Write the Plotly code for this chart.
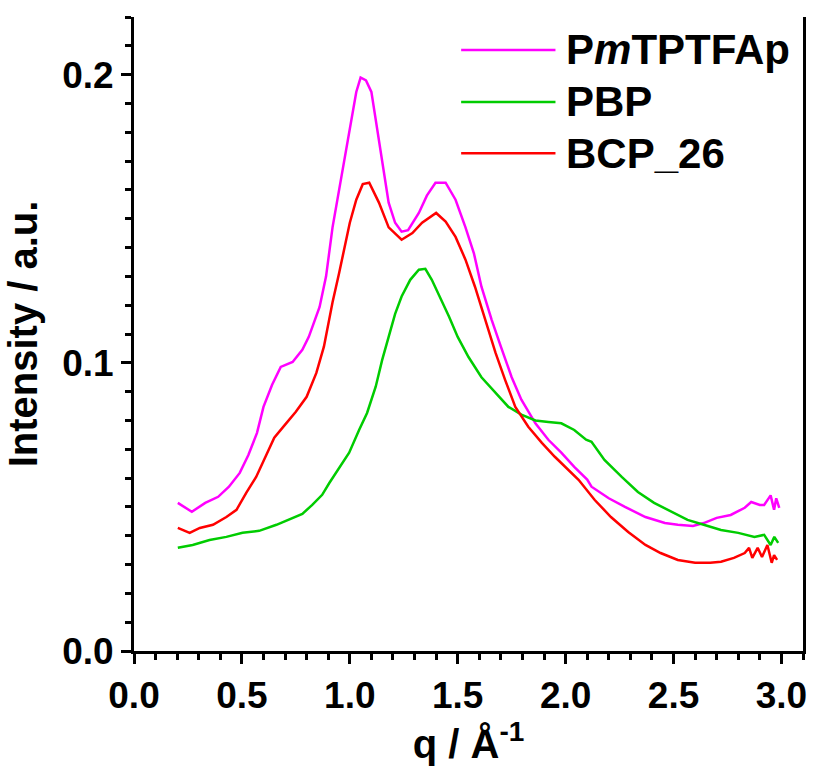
import plotly.graph_objects as go

# PmTPTFAp (magenta)
q_m = [0.203, 0.268, 0.33, 0.39, 0.44, 0.49, 0.53, 0.57, 0.60, 0.64, 0.68, 0.735, 0.78, 0.81, 0.86,
       0.89, 0.92, 0.96, 1.0, 1.03, 1.05, 1.075, 1.10, 1.126, 1.158, 1.18, 1.21, 1.24, 1.27, 1.32,
       1.357, 1.397, 1.444, 1.49, 1.536, 1.575, 1.61, 1.657, 1.70, 1.75, 1.795, 1.86, 1.92, 1.98,
       2.04, 2.10, 2.12, 2.20, 2.275, 2.37, 2.46, 2.52, 2.59, 2.64, 2.70, 2.765, 2.83, 2.86, 2.90,
       2.92, 2.95, 2.966, 2.976, 2.99]
i_m = [0.0514, 0.0483, 0.0514, 0.0535, 0.057, 0.0618, 0.068, 0.0757, 0.0847, 0.0924, 0.0986, 0.1003,
       0.1045, 0.109, 0.1194, 0.130, 0.147, 0.1646, 0.182, 0.194, 0.199, 0.198, 0.194, 0.182, 0.167,
       0.1556, 0.1486, 0.1455, 0.146, 0.152, 0.158, 0.1625, 0.1625, 0.1566, 0.147, 0.138, 0.1264,
       0.115, 0.1056, 0.095, 0.0872, 0.079, 0.0733, 0.0688, 0.0639, 0.0595, 0.057, 0.053, 0.050,
       0.0465, 0.0444, 0.0438, 0.0434, 0.0444, 0.0462, 0.0472, 0.0497, 0.0517, 0.0507, 0.0507,
       0.054, 0.049, 0.053, 0.0497]

# PBP (green)
q_g = [0.203, 0.272, 0.35, 0.428, 0.503, 0.58, 0.66, 0.735, 0.78, 0.826, 0.872, 0.905, 0.95, 0.997,
       1.043, 1.08, 1.12, 1.15, 1.18, 1.21, 1.24, 1.28, 1.32, 1.35, 1.38, 1.41, 1.46, 1.50, 1.55,
       1.61, 1.675, 1.735, 1.795, 1.86, 1.92, 1.98, 2.04, 2.095, 2.12, 2.18, 2.26, 2.335, 2.41, 2.49,
       2.565, 2.64, 2.72, 2.80, 2.875, 2.92, 2.95, 2.967, 2.985]
i_g = [0.0358, 0.0368, 0.0385, 0.0396, 0.041, 0.0417, 0.0438, 0.0462, 0.0476, 0.0507, 0.0542,
       0.0583, 0.0635, 0.0688, 0.0767, 0.0826, 0.0917, 0.101, 0.109, 0.117, 0.123, 0.1288, 0.1323,
       0.1326, 0.1288, 0.124, 0.116, 0.109, 0.102, 0.095, 0.0896, 0.0847, 0.082, 0.080, 0.0795,
       0.079, 0.0767, 0.0733, 0.0726, 0.0663, 0.0604, 0.0552, 0.0514, 0.0483, 0.0455, 0.0438, 0.042,
       0.041, 0.0396, 0.0403, 0.0368, 0.0396, 0.0375]

# BCP_26 (red)
q_r = [0.203, 0.258, 0.305, 0.366, 0.428, 0.475, 0.52, 0.566, 0.613, 0.65, 0.705, 0.75, 0.80, 0.845,
       0.88, 0.92, 0.95, 0.975, 1.0, 1.03, 1.06, 1.09, 1.135, 1.18, 1.24, 1.29, 1.335, 1.40, 1.444,
       1.49, 1.536, 1.58, 1.63, 1.675, 1.72, 1.767, 1.827, 1.89, 1.95, 2.026, 2.06, 2.135, 2.21, 2.29,
       2.37, 2.44, 2.52, 2.60, 2.67, 2.72, 2.78, 2.83, 2.85, 2.865, 2.89, 2.91, 2.935, 2.955, 2.966,
       2.98]
i_r = [0.0427, 0.041, 0.0427, 0.0438, 0.0465, 0.049, 0.0549, 0.0604, 0.068, 0.074, 0.079, 0.083,
       0.0882, 0.0965, 0.1056, 0.121, 0.131, 0.140, 0.1486, 0.1566, 0.162, 0.1625, 0.1556, 0.147,
       0.1427, 0.145, 0.1486, 0.152, 0.149, 0.1437, 0.1358, 0.1264, 0.114, 0.1035, 0.094, 0.0847,
       0.0778, 0.0722, 0.0674, 0.0618, 0.0594, 0.0524, 0.0465, 0.0413, 0.0368, 0.034, 0.0316, 0.0306,
       0.0306, 0.031, 0.0323, 0.034, 0.0358, 0.0323, 0.0358, 0.0326, 0.0368, 0.0306, 0.0333, 0.0316]

series_names = ["P<i>m</i>TPTFAp", "PBP", "BCP_26"]
series_colors = ["#FF00FF", "#00CC00", "#FF0000"]
series_x = [q_m, q_g, q_r]
series_y = [i_m, i_g, i_r]

FONT = "Liberation Sans, Arial, sans-serif"

fig = go.Figure()
for name, col, xs, ys in zip(series_names, series_colors, series_x, series_y):
    fig.add_trace(go.Scatter(x=xs, y=ys, mode="lines", name=name,
                             line=dict(color=col, width=2.5), showlegend=False))

# manual legend (long line samples like the original)
leg_rows = [0.948, 0.866, 0.785]
for name, col, yy in zip(series_names, series_colors, leg_rows):
    fig.add_shape(type="line", xref="paper", yref="paper", x0=0.489, x1=0.630, y0=yy, y1=yy,
                  line=dict(color=col, width=2.5))
    fig.add_annotation(xref="paper", yref="paper", x=0.643, y=yy, text=name, showarrow=False,
                       xanchor="left", yanchor="middle",
                       font=dict(family=FONT, size=42, color="black", weight="bold"))

axis_common = dict(showline=True, linecolor="black", linewidth=3, ticks="outside",
                   ticklen=10, tickwidth=3, tickcolor="black", showgrid=False, zeroline=False,
                   tickfont=dict(family=FONT, size=37, color="black", weight="bold"),
                   tickformat=".1f")

fig.update_xaxes(range=[0, 3.1], dtick=0.5, tick0=0, automargin=True, ticklabelstandoff=0,
                 minor=dict(dtick=0.1, ticks="outside", ticklen=6, tickwidth=2.5, tickcolor="black"),
                 title=dict(text="q / Å<sup>-1</sup>", standoff=4,
                            font=dict(family=FONT, size=40, color="black", weight="bold")),
                 mirror=False, **axis_common)
fig.update_yaxes(range=[0, 0.22], dtick=0.1, tick0=0,
                 minor=dict(dtick=0.01, ticks="outside", ticklen=6, tickwidth=2.5, tickcolor="black"),
                 title=dict(text="Intensity / a.u.", standoff=13,
                            font=dict(family=FONT, size=40, color="black", weight="bold")),
                 mirror=True, **axis_common)

fig.update_layout(width=816, height=772, autosize=False,
                  margin=dict(l=134, r=9, t=17, b=121),
                  plot_bgcolor="white", paper_bgcolor="white")

fig.write_html("out.html")
